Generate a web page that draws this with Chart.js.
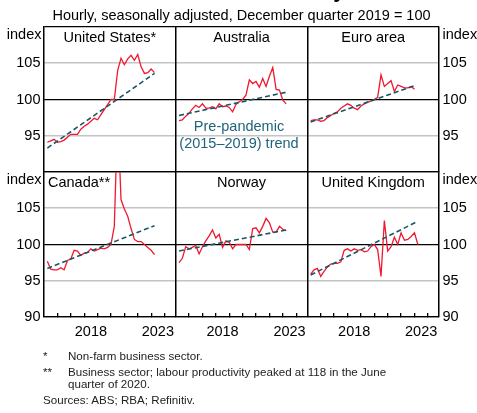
<!DOCTYPE html>
<html>
<head>
<meta charset="utf-8">
<script src="https://cdn.jsdelivr.net/npm/chart.js@4.4.0/dist/chart.umd.min.js"></script>
<style>
  body { margin: 0; background: #fff; }
  #wrap { position: relative; width: 477px; height: 413px; overflow: hidden; font-family: "Liberation Sans", Arial, sans-serif; color: #000; }
  #wrap canvas { position: absolute; left: 0; top: 0; }
  .txt { position: absolute; white-space: nowrap; }
  .note { font-size: 11.6px; line-height: 14px; color: #222; }
</style>
</head>
<body>
<div id="wrap">
  <canvas id="productivityChart" width="477" height="413"></canvas>
  <div class="txt" style="left:44px;width:395px;text-align:center;top:-22px;font-weight:bold;font-size:22px;line-height:24px;">Labour Productivity</div>
  <div class="txt" style="left:44px;width:395px;text-align:center;top:7px;font-size:14.5px;line-height:16px;">Hourly, seasonally adjusted, December quarter 2019 = 100</div>
  <div class="txt note" style="left:43px;top:348.5px;">*</div>
  <div class="txt note" style="left:68px;top:348.5px;">Non-farm business sector.</div>
  <div class="txt note" style="left:43px;top:365px;">**</div>
  <div class="txt note" style="left:68px;top:365.5px;line-height:12.2px;">Business sector; labour productivity peaked at 118 in the June<br>quarter of 2020.</div>
  <div class="txt note" style="left:43px;top:393px;">Sources: ABS; RBA; Refinitiv.</div>
</div>
<script>
// quarters, plotted at the end of each quarter
const quarters = [
  '2015-Q1', '2015-Q2', '2015-Q3', '2015-Q4', '2016-Q1', '2016-Q2', '2016-Q3', '2016-Q4',
  '2017-Q1', '2017-Q2', '2017-Q3', '2017-Q4', '2018-Q1', '2018-Q2', '2018-Q3', '2018-Q4',
  '2019-Q1', '2019-Q2', '2019-Q3', '2019-Q4', '2020-Q1', '2020-Q2', '2020-Q3', '2020-Q4',
  '2021-Q1', '2021-Q2', '2021-Q3', '2021-Q4', '2022-Q1', '2022-Q2', '2022-Q3', '2022-Q4',
  '2023-Q1'
];

const unitedStates = [94.1, 94.3, 94.5, 94.1, 94.2, 94.4, 94.8, 95.2, 95.2, 95.2, 95.9, 96.3, 96.6, 97.0, 97.4, 97.2,
  97.9, 98.6, 99.3, 100.0, 100.0, 104.0, 105.7, 104.8, 105.6, 106.1, 105.4, 106.2, 104.5, 103.6, 103.7, 104.2, 103.7];
const australia = [97.1, 97.2, 97.7, 98.1, 98.7, 99.2, 98.9, 99.4, 98.8, 98.8, 99.0, 98.7, 99.4, 99.0, 99.1, 98.9,
  98.3, 99.3, 99.7, 100.0, 100.6, 102.7, 102.2, 102.5, 101.7, 102.9, 101.8, 103.2, 104.4, 101.4, 101.3, 99.9, 99.4];
const euroArea = [97.1, 97.2, 97.2, 97.0, 97.1, 97.5, 97.8, 98.1, 98.3, 98.8, 99.1, 99.4, 99.2, 98.8, 98.6, 99.1,
  99.4, 99.6, 99.8, 100.0, 100.3, 103.4, 101.8, 102.2, 102.6, 101.1, 102.0, 101.8, 101.6, 101.6, 101.8, 101.4];
const canada = [97.7, 96.6, 96.5, 96.5, 96.8, 96.5, 97.8, 98.0, 99.2, 99.1, 98.5, 98.8, 98.9, 99.4, 99.1, 99.3,
  99.5, 99.4, 99.6, 100.0, 102.5, 118.0, 106.2, 104.9, 103.9, 102.2, 100.7, 100.4, 100.4, 100.0, 99.6, 99.2, 98.6];
const norway = [97.5, 98.1, 99.7, 99.4, 99.6, 99.9, 98.7, 99.7, 100.5, 101.2, 102.0, 100.9, 101.4, 99.6, 100.5, 100.3,
  99.4, 100.0, 100.0, 100.0, 100.0, 99.3, 102.2, 102.3, 101.6, 102.5, 103.6, 103.0, 101.7, 101.7, 102.5, 102.1, 101.9];
const unitedKingdom = [95.9, 96.5, 96.7, 95.6, 96.3, 96.9, 97.3, 97.4, 97.4, 97.6, 99.2, 99.4, 99.1, 99.4, 99.2, 99.3,
  99.0, 99.1, 99.7, 100.0, 99.3, 95.6, 103.3, 99.1, 99.7, 101.0, 100.0, 101.6, 100.6, 100.7, 101.1, 101.6, 100.0];

// pre-pandemic trend, value at first and last quarter of each series
const trendStart = [93.3, 97.8, 96.9, 96.7, 99.1, 95.8];
const trendEnd = [103.6, 101.0, 101.9, 102.6, 102.0, 103.2];

const panelNames = ['United States*', 'Australia', 'Euro area', 'Canada**', 'Norway', 'United Kingdom'];
const yTicks = [90, 95, 100, 105, 110];
const topRowLabels = [95, 100, 105];
const bottomRowLabels = [90, 95, 100, 105];
const yearLabels = [2018, 2023];

const seriesList = [unitedStates, australia, euroArea, canada, norway, unitedKingdom];

const red = '#f0182f';
const teal = '#1b5668';
const fontFamily = '"Liberation Sans", Arial, sans-serif';
const xMin = 2015, xMax = 2024.83;

Chart.defaults.font.family = fontFamily;
Chart.defaults.font.size = 14.5;
Chart.defaults.color = '#000';

function toYear(q) {
  return Number(q.slice(0, 4)) + Number(q.slice(-1)) / 4;
}

let datasets = [];
seriesList.forEach(function (values, k) {
  let xs = quarters.slice(0, values.length).map(toYear);
  let xAxisID = 'x' + (k % 3);
  let yAxisID = 'y' + Math.floor(k / 3);
  datasets.push({
    data: values.map((v, i) => ({ x: xs[i], y: v })),
    xAxisID: xAxisID, yAxisID: yAxisID,
    borderColor: red, borderWidth: 1.3, pointRadius: 0, order: 1
  });
  datasets.push({
    data: [{ x: xs[0], y: trendStart[k] }, { x: xs[xs.length - 1], y: trendEnd[k] }],
    xAxisID: xAxisID, yAxisID: yAxisID,
    borderColor: teal, borderWidth: 1.6, borderDash: [5, 3], pointRadius: 0, order: 0
  });
});

function yAxis(position, labelled) {
  return {
    type: 'linear', position: position, stack: position, bounds: 'data',
    min: 90, max: 110,
    afterBuildTicks: s => { s.ticks = yTicks.map(v => ({ value: v })); },
    afterFit: s => { s.width = position === 'left' ? 44 : 38; },
    ticks: {
      autoSkip: false, padding: 3.5,
      callback: v => labelled.includes(v) ? String(v) : ''
    },
    grid: {
      drawOnChartArea: position === 'left', drawTicks: false,
      color: ctx => {
        if (!ctx.tick) return '#000';
        return (ctx.tick.value === 95 || ctx.tick.value === 105) ? '#c4c4c4' : '#000';
      },
      lineWidth: ctx => {
        if (!ctx.tick) return 1.3;
        return (ctx.tick.value === 95 || ctx.tick.value === 105) ? 1.6 : 1.3;
      }
    },
    border: { color: '#000', width: 1.3 }
  };
}

function xAxis() {
  return {
    type: 'linear', position: 'bottom', stack: 'cols', bounds: 'data',
    min: xMin, max: xMax,
    afterBuildTicks: s => {
      let t = [];
      for (let v = xMin; v < xMax; v += 0.5) t.push({ value: v });
      t.push({ value: xMax });
      s.ticks = t;
    },
    afterFit: s => { s.height = 96; },
    ticks: {
      autoSkip: false, maxRotation: 0, padding: 10.3,
      callback: v => yearLabels.includes(v - 0.5) ? String(v - 0.5) : ''
    },
    grid: {
      drawOnChartArea: true, drawTicks: true, tickLength: -4,
      color: ctx => (ctx.tick && (ctx.tick.value === xMin || ctx.tick.value === xMax)) ? '#000' : 'rgba(0,0,0,0)',
      lineWidth: 1.3,
      tickColor: ctx => (ctx.tick && Number.isInteger(ctx.tick.value) && ctx.tick.value > xMin) ? '#000' : 'rgba(0,0,0,0)',
      tickWidth: 1.3
    },
    border: { color: '#000', width: 1.3 }
  };
}

const panelText = {
  id: 'panelText',
  afterDraw(chart) {
    const { ctx, scales, chartArea } = chart;
    ctx.save();
    ctx.font = '14.5px ' + fontFamily;
    ctx.fillStyle = '#000';
    ctx.textBaseline = 'middle';
    panelNames.forEach(function (name, k) {
      let xs = scales['x' + (k % 3)];
      let ys = scales['y' + Math.floor(k / 3)];
      let y = ys.top + 10.5;
      if (k === 3) {
        ctx.textAlign = 'left';
        ctx.fillText(name, xs.left + 4, y);
      } else {
        ctx.textAlign = 'center';
        ctx.fillText(name, (xs.left + xs.right) / 2, y);
      }
    });
    ['y0', 'y1'].forEach(function (id) {
      let ys = scales[id];
      ctx.textAlign = 'right';
      ctx.fillText('index', chartArea.left - 2.5, ys.top + 7.5);
      ctx.textAlign = 'left';
      ctx.fillText('index', chartArea.right + 3.5, ys.top + 7.5);
    });
    // trend annotation in the Australia panel
    let xs = scales.x1, ys = scales.y0;
    ctx.fillStyle = '#1f6479';
    ctx.textAlign = 'center';
    ctx.fillText('Pre-pandemic', (xs.left + xs.right) / 2 - 2.5, ys.top + 99.5);
    ctx.fillText('(2015\u20132019) trend', (xs.left + xs.right) / 2 - 2.5, ys.top + 116.5);
    ctx.restore();
  }
};

let ctxP = document.getElementById('productivityChart').getContext('2d');

// left-hand boxes are laid out in reverse order, so the bottom row comes first
let productivityChart = new Chart(ctxP, {
  type: 'line',
  data: { datasets: datasets },
  options: {
    responsive: false,
    animation: false,
    events: [],
    layout: { padding: { top: 27, left: 0, right: 0, bottom: 0 } },
    plugins: { legend: { display: false }, tooltip: { enabled: false } },
    scales: {
      y1: yAxis('left', bottomRowLabels),
      y0: yAxis('left', topRowLabels),
      yR0: yAxis('right', topRowLabels),
      yR1: yAxis('right', bottomRowLabels),
      x0: xAxis(),
      x1: xAxis(),
      x2: xAxis()
    }
  },
  plugins: [panelText]
});
</script>
</body>
</html>
